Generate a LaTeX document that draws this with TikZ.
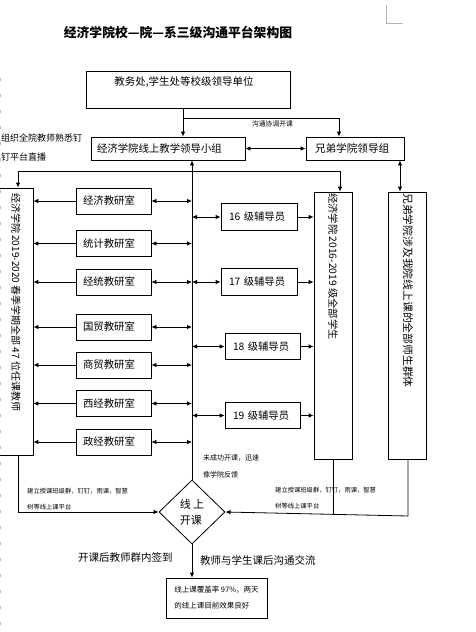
\documentclass[tikz,border=0pt]{standalone}
\usepackage{fontspec}
\setmainfont{Noto Sans CJK SC}
\usetikzlibrary{arrows.meta,shapes.geometric}
\newcommand\fsz[2]{\fontsize{#1}{#2}\selectfont}
\tikzset{
  box/.style={draw, line width=0.8pt, inner sep=0pt},
  ln/.style={line width=0.8pt},
  arr/.style={ln, -{Latex[length=5pt,width=4.5pt]}},
  darr/.style={ln, {Latex[length=5pt,width=4.5pt]}-{Latex[length=5pt,width=4.5pt]}},
  txt/.style={inner sep=0pt, font=\fsz{10.5}{13}},
  room/.style={box, minimum width=75pt, minimum height=26pt, text width=61pt, align=left, font=\fsz{10.4}{13}},
  coun/.style={box, minimum height=26.5pt, align=left, font=\fsz{10.3}{13}},
  tall/.style={box, minimum width=38pt, minimum height=267pt},
  vtxt/.style={inner sep=0pt, rotate=-90, anchor=west},
}
\begin{document}
\begin{tikzpicture}[x=1pt,y=-1pt]
\useasboundingbox (0,0) rectangle (475,632);

% page decorations
\draw[gray!60, line width=0.5pt] (386,5) -- (386,23) -- (403,23);
\draw[gray!50, line width=0.7pt, dash pattern=on 3pt off 13pt] (0.8,78) -- (0.8,632);

% title
\node[inner sep=0pt, font=\fsz{12.8}{15}\bfseries] (title) at (178,33) {经济学院校—院—系三级沟通平台架构图};

% top boxes
\node[box, minimum width=204pt, minimum height=37pt] (b1) at (188,89.5) {};
\node[txt] (b1t) at (184,82) {教务处,学生处等校级领导单位};
\node[box, minimum width=154pt, minimum height=23pt, text width=142pt, align=left, font=\fsz{10.4}{13}] (b2) at (168,148.5) {经济学院线上教学领导小组};
\node[box, minimum width=98pt, minimum height=23pt, text width=80pt, align=left, font=\fsz{10.6}{13}] (b3) at (355,148.5) {兄弟学院领导组};

\coordinate (j1) at (183,118);
\coordinate (j2) at (339,118);
\draw[ln] (b1.south -| j1) -- (j1) -- (j2);
\draw[arr] (j1) -- (j1 |- b2.north);
\draw[arr] (j2) -- (j2 |- b3.north);
\draw[darr] (b2.east) -- (b3.west);
\node[inner sep=0pt, font=\fsz{6.8}{8}] (coord) at (272.5,124) {沟通协调开课};

\node[inner sep=0pt, anchor=west, align=left, font=\fsz{9}{19}] (note1) at (1,147.5) {组织全院教师熟悉钉\\钉平台直播};

% tall boxes
\node[box, minimum width=35pt, minimum height=267pt] (L) at (15.5,321.5) {};
\node[vtxt, font=\fsz{10}{12}] (Lt) at (16,193) {经济学院 2019-2020 春季学期全部 47 位任课教师};
\node[tall] (M) at (333,325.5) {};
\node[vtxt, font=\fsz{10.3}{12}] (Mt) at (333,193) {经济学院 2016-2019 级全部学生};
\node[tall] (Rt) at (407,325.5) {};
\node[vtxt, font=\fsz{10.8}{12}] (Rtt) at (408,193) {兄弟学院涉及我院线上课的全部师生群体};

% diamond
\node[diamond, draw, line width=0.8pt, minimum width=66pt, minimum height=64pt, inner sep=0pt, align=left, font=\fsz{11}{16}] (D) at (192,512) {线\ 上\\开课};

% central vertical line
\draw[arr] (D.north) -- (D.north |- b2.south);

% horizontal distribution line
\coordinate (h1) at (18,171);
\coordinate (h2) at (340,171);
\draw[ln] (h1) -- (h2);
\draw[arr] (h1) -- (h1 |- L.north);
\draw[arr] (h2) -- (h2 |- M.north);

% teaching rooms
\node[room] (R1) at (113.5,201) {经济教研室};
\node[room] (R2) at (113.5,243.5) {统计教研室};
\node[room] (R3) at (113.5,282) {经统教研室};
\node[room] (R4) at (113.5,327) {国贸教研室};
\node[room] (R5) at (113.5,365) {商贸教研室};
\node[room] (R6) at (113.5,403.5) {西经教研室};
\node[room] (R7) at (113.5,442) {政经教研室};
\foreach \r in {R1,R2,R3,R4,R5,R6,R7}{
  \draw[arr] (\r.west) -- (\r.west -| L.east);
  \draw[darr] (\r.east) -- (\r.east -| D.north);
}

% counselors
\node[coun, minimum width=76pt, text width=60pt] (C16) at (259,217) {16 级辅导员};
\node[coun, minimum width=76pt, text width=60pt] (C17) at (259,282) {17 级辅导员};
\node[coun, minimum width=75pt, text width=59pt] (C18) at (262.5,346.5) {18 级辅导员};
\node[coun, minimum width=75pt, text width=59pt] (C19) at (262.5,415.5) {19 级辅导员};
\foreach \c in {C16,C17,C18,C19}{
  \draw[darr] (\c.west -| D.north) -- (\c.west);
  \draw[arr] (\c.east) -- (\c.east -| M.west);
}

% right group link
\coordinate (v3) at (400,0);
\draw[darr] (b3.south -| v3) -- (Rt.north -| v3);

% to the diamond
\draw[arr] (L.south -| h1) -- (h1 |- D.west) -- (D.west);
\coordinate (rr) at (408,516);
\draw[arr] (Rt.south -| rr) -- (rr) -- (D.east);
\coordinate (mm) at (333,514.4);
\draw[ln] (M.south) -- (mm);

\node[inner sep=0pt, anchor=west, align=left, font=\fsz{7}{17}] (fail) at (203,466.5) {未成功开课，迅速\\像学院反馈};
\node[inner sep=0pt, anchor=west, align=left, font=\fsz{6.3}{16}] (plat1) at (27,499) {建立授课班级群，钉钉，雨课，智慧\\树等线上课平台};
\node[inner sep=0pt, anchor=west, align=left, font=\fsz{6.3}{16}] (plat2) at (275,498) {建立授课班级群，钉钉，雨课，智慧\\树等线上课平台};

% bottom
\node[box, minimum width=101pt, minimum height=40pt, align=left, font=\fsz{7.5}{16}] (Bot) at (216.5,598) {线上课覆盖率 97\%，两天\\的线上课目前效果良好};
\draw[arr] (D.south) -- (D.south |- Bot.north);
\node[txt, anchor=west] (sign) at (78,557) {开课后教师群内签到};
\node[txt, anchor=west] (talk) at (200,560) {教师与学生课后沟通交流};
\end{tikzpicture}
\end{document}
